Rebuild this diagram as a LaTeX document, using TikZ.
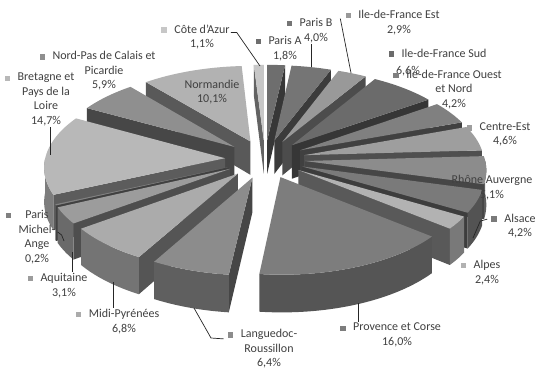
\documentclass[tikz,border=0pt]{standalone}
\usepackage{fontspec}
\setmainfont{Carlito}
\usetikzlibrary{positioning}
\usepackage{xcolor}

\definecolor{txt}{gray}{0.25}
\definecolor{cCote}{gray}{0.78}
\definecolor{cParisA}{gray}{0.43}
\definecolor{cParisB}{gray}{0.46}
\definecolor{cEst}{gray}{0.60}
\definecolor{cSud}{gray}{0.42}
\definecolor{cOuest}{gray}{0.50}
\definecolor{cCentre}{gray}{0.62}
\definecolor{cRhone}{gray}{0.55}
\definecolor{cAlsace}{gray}{0.48}
\definecolor{cAlpes}{gray}{0.70}
\definecolor{cProv}{gray}{0.49}
\definecolor{cLang}{gray}{0.55}
\definecolor{cMidi}{gray}{0.67}
\definecolor{cAqui}{gray}{0.61}
\definecolor{cMich}{gray}{0.50}
\definecolor{cBret}{gray}{0.72}
\definecolor{cNord}{gray}{0.56}
\definecolor{cNorm}{gray}{0.70}

% pie geometry (pixels)
\newcommand{\pcx}{265}
\newcommand{\pcy}{159}
\newcommand{\prad}{180}
\newcommand{\pk}{0.481}
\newcommand{\pex}{40}
\newcommand{\pth}{34}
\newcommand{\pD}{2000}

\tikzset{declare function={
  sv(\qa,\qr)=\sov-\qr*cos(\qa);
  ss(\qa,\qr)=1+sv(\qa,\qr)/\pD;
  px(\qa,\qr)=\pcx+(\sou+\qr*sin(\qa))*ss(\qa,\qr);
  py(\qa,\qr,\qh)=\pcy+(\pk*sv(\qa,\qr)+\qh)*ss(\qa,\qr);
}}

% one exploded slice: start angle, end angle (clockwise from top), colour
\newcommand{\pieslice}[3]{%
  \pgfmathsetmacro{\smid}{(#1+#2)/2}%
  \pgfmathsetmacro{\sou}{\pex*sin(\smid)}%
  \pgfmathsetmacro{\sov}{-\pex*cos(\smid)}%
  \pgfmathtruncatemacro{\sws}{(#1>180)*(#1<360)}%
  \pgfmathtruncatemacro{\swe}{(#2>0)*(#2<180)}%
  \pgfmathsetmacro{\sfa}{max(#1,90)}%
  \pgfmathsetmacro{\sfb}{min(#2,270)}%
  \pgfmathtruncatemacro{\sfs}{\sfb>\sfa}%
  \ifnum\sws=1
    \fill[#3!50!black] ({px(0,0)},{py(0,0,0)}) -- ({px(#1,\prad)},{py(#1,\prad,0)})
      -- ({px(#1,\prad)},{py(#1,\prad,\pth)}) -- ({px(0,0)},{py(0,0,\pth)}) -- cycle;
  \fi
  \ifnum\swe=1
    \fill[#3!50!black] ({px(0,0)},{py(0,0,0)}) -- ({px(#2,\prad)},{py(#2,\prad,0)})
      -- ({px(#2,\prad)},{py(#2,\prad,\pth)}) -- ({px(0,0)},{py(0,0,\pth)}) -- cycle;
  \fi
  \ifnum\sfs=1
    \fill[#3!68!black]
      plot[domain=0:1, samples=40, variable=\q] ({px(\sfa+(\sfb-\sfa)*\q,\prad)},{py(\sfa+(\sfb-\sfa)*\q,\prad,0)})
      -- plot[domain=0:1, samples=40, variable=\q] ({px(\sfb+(\sfa-\sfb)*\q,\prad)},{py(\sfb+(\sfa-\sfb)*\q,\prad,\pth)})
      -- cycle;
  \fi
  \fill[#3] ({px(0,0)},{py(0,0,0)})
    -- plot[domain=#1:#2, samples=40] ({px(\x,\prad)},{py(\x,\prad,0)}) -- cycle;
}

\begin{document}
\begin{tikzpicture}[
  x=1pt, y=-1pt,
  lbl/.style={font=\fontsize{12}{14.5}\selectfont, text=txt, align=center, inner sep=1pt},
  mk/.style={minimum size=5.5pt, inner sep=0pt},
  ldr/.style={draw=black!85, line width=0.7pt}
]
\useasboundingbox[fill=white] (0,0) rectangle (537,370);

% slices, back to front
\pieslice{356.4}{360}{cCote}
\pieslice{0}{6.48}{cParisA}
\pieslice{6.48}{20.88}{cParisB}
\pieslice{320.04}{356.4}{cNorm}
\pieslice{20.88}{31.32}{cEst}
\pieslice{31.32}{55.08}{cSud}
\pieslice{298.8}{320.04}{cNord}
\pieslice{55.08}{70.2}{cOuest}
\pieslice{70.2}{86.76}{cCentre}
\pieslice{245.88}{298.8}{cBret}
\pieslice{86.76}{105.12}{cRhone}
\pieslice{105.12}{120.24}{cAlsace}
\pieslice{245.16}{245.88}{cMich}
\pieslice{234}{245.16}{cAqui}
\pieslice{120.24}{128.88}{cAlpes}
\pieslice{209.52}{234}{cMidi}
\pieslice{128.88}{186.48}{cProv}
\pieslice{186.48}{209.52}{cLang}

% labels
\node[lbl] (lCote) at (202,37) {Côte d'Azur\\1,1\%};
\node[lbl] (lParisA) at (285,48.5) {Paris A\\1,8\%};
\node[lbl] (lParisB) at (316,30.5) {Paris B\\4,0\%};
\node[lbl] (lEst) at (399,22.5) {Ile-de-France Est\\2,9\%};
\node[lbl] (lSud) at (444,53) {Ile-de-France Sud};
\node[lbl] (pSud) at (408,71.5) {6,6\%};
\node[lbl] (lOuest) at (454,89.5) {Ile-de-France Ouest\\et Nord\\4,2\%};
\node[lbl] (lCentre) at (505,134.5) {Centre-Est\\4,6\%};
\node[lbl] (lRhone) at (492,187.5) {Rhône Auvergne\\5,1\%};
\node[lbl] (lAlsace) at (520,226) {Alsace\\4,2\%};
\node[lbl] (lAlpes) at (487,272.5) {Alpes\\2,4\%};
\node[lbl] (lProv) at (397,335) {Provence et Corse\\16,0\%};
\node[lbl] (lLang) at (269,349) {Languedoc-\\Roussillon\\6,4\%};
\node[lbl] (lMidi) at (124,321.5) {Midi-Pyrénées\\6,8\%};
\node[lbl] (lAqui) at (64,285.5) {Aquitaine\\3,1\%};
\node[lbl] (lMich) at (37,237) {Paris\\Michel-\\Ange\\0,2\%};
\node[lbl] (lBret) at (46,99.5) {Bretagne et\\Pays de la\\Loire\\14,7\%};
\node[lbl] (lNord) at (104,71) {Nord-Pas de Calais et\\Picardie\\5,9\%};
\node[lbl] (lNorm) at (212,92) {Normandie\\10,1\%};

% legend keys
\node[mk, fill=cCote] (mCote) at ([xshift=-9pt,yshift=-6.5pt]lCote.north west) {};
\node[mk, fill=cParisA] (mParisA) at ([xshift=-9pt,yshift=-6.5pt]lParisA.north west) {};
\node[mk, fill=cParisB] (mParisB) at ([xshift=-9pt,yshift=-6.5pt]lParisB.north west) {};
\node[mk, fill=cEst] (mEst) at ([xshift=-9pt,yshift=-6.5pt]lEst.north west) {};
\node[mk, fill=cSud] (mSud) at ([xshift=-9pt,yshift=-6.5pt]lSud.north west) {};
\node[mk, fill=cOuest] (mOuest) at ([xshift=-9pt,yshift=-6.5pt]lOuest.north west) {};
\node[mk, fill=cCentre] (mCentre) at ([xshift=-9pt,yshift=-6.5pt]lCentre.north west) {};
\node[mk, fill=cAlsace] (mAlsace) at ([xshift=-9pt,yshift=-6.5pt]lAlsace.north west) {};
\node[mk, fill=cAlpes] (mAlpes) at ([xshift=-9pt,yshift=-6.5pt]lAlpes.north west) {};
\node[mk, fill=cProv] (mProv) at ([xshift=-9pt,yshift=-6.5pt]lProv.north west) {};
\node[mk, fill=cLang] (mLang) at ([xshift=-9pt,yshift=-6.5pt]lLang.north west) {};
\node[mk, fill=cMidi] (mMidi) at ([xshift=-9pt,yshift=-6.5pt]lMidi.north west) {};
\node[mk, fill=cAqui] (mAqui) at ([xshift=-9pt,yshift=-6.5pt]lAqui.north west) {};
\node[mk, fill=cMich] (mMich) at ([xshift=-9pt,yshift=-6.5pt]lMich.north west) {};
\node[mk, fill=cBret] (mBret) at ([xshift=-9pt,yshift=-6.5pt]lBret.north west) {};
\node[mk, fill=cNord] (mNord) at ([xshift=-9pt,yshift=-6.5pt]lNord.north west) {};

% leader lines
\coordinate (tCote) at (260,66);
\coordinate (tParisB) at (311,67);
\coordinate (tEst) at (351,73);
\coordinate (tAlsace) at (473,238);
\coordinate (tProv) at (358,303);
\coordinate (tLang) at (194,308);
\coordinate (tMidi) at (113,282);
\coordinate (tAqui) at (72,252);
\coordinate (tMich) at (64,241);
\coordinate (tBret) at (50,155);

\draw[ldr] ([yshift=-9pt]lCote.north east) -- ++(6,0) -- (tCote);
\draw[ldr] (lParisB.south -| tParisB) -- (tParisB);
\draw[ldr] ([xshift=-5pt,yshift=-3pt]mEst.west) -- (tEst);
\draw[ldr] ([xshift=-4pt]mAlsace.west) -- ++(-7,2) -- (tAlsace);
\draw[ldr] (tProv) -- (lProv.north -| tProv);
\draw[ldr] (tLang) -- ++(17,30) -- ([xshift=-4pt,yshift=-4pt]mLang.west);
\draw[ldr] (tMidi) -- (lMidi.north -| tMidi);
\draw[ldr] (tAqui) -- (lAqui.north -| tAqui);
\draw[ldr] ([xshift=1pt,yshift=5pt]lMich.east) -- ++(4,3) -- (tMich);
\draw[ldr] (lBret.south -| tBret) -- (tBret);
\end{tikzpicture}
\end{document}
